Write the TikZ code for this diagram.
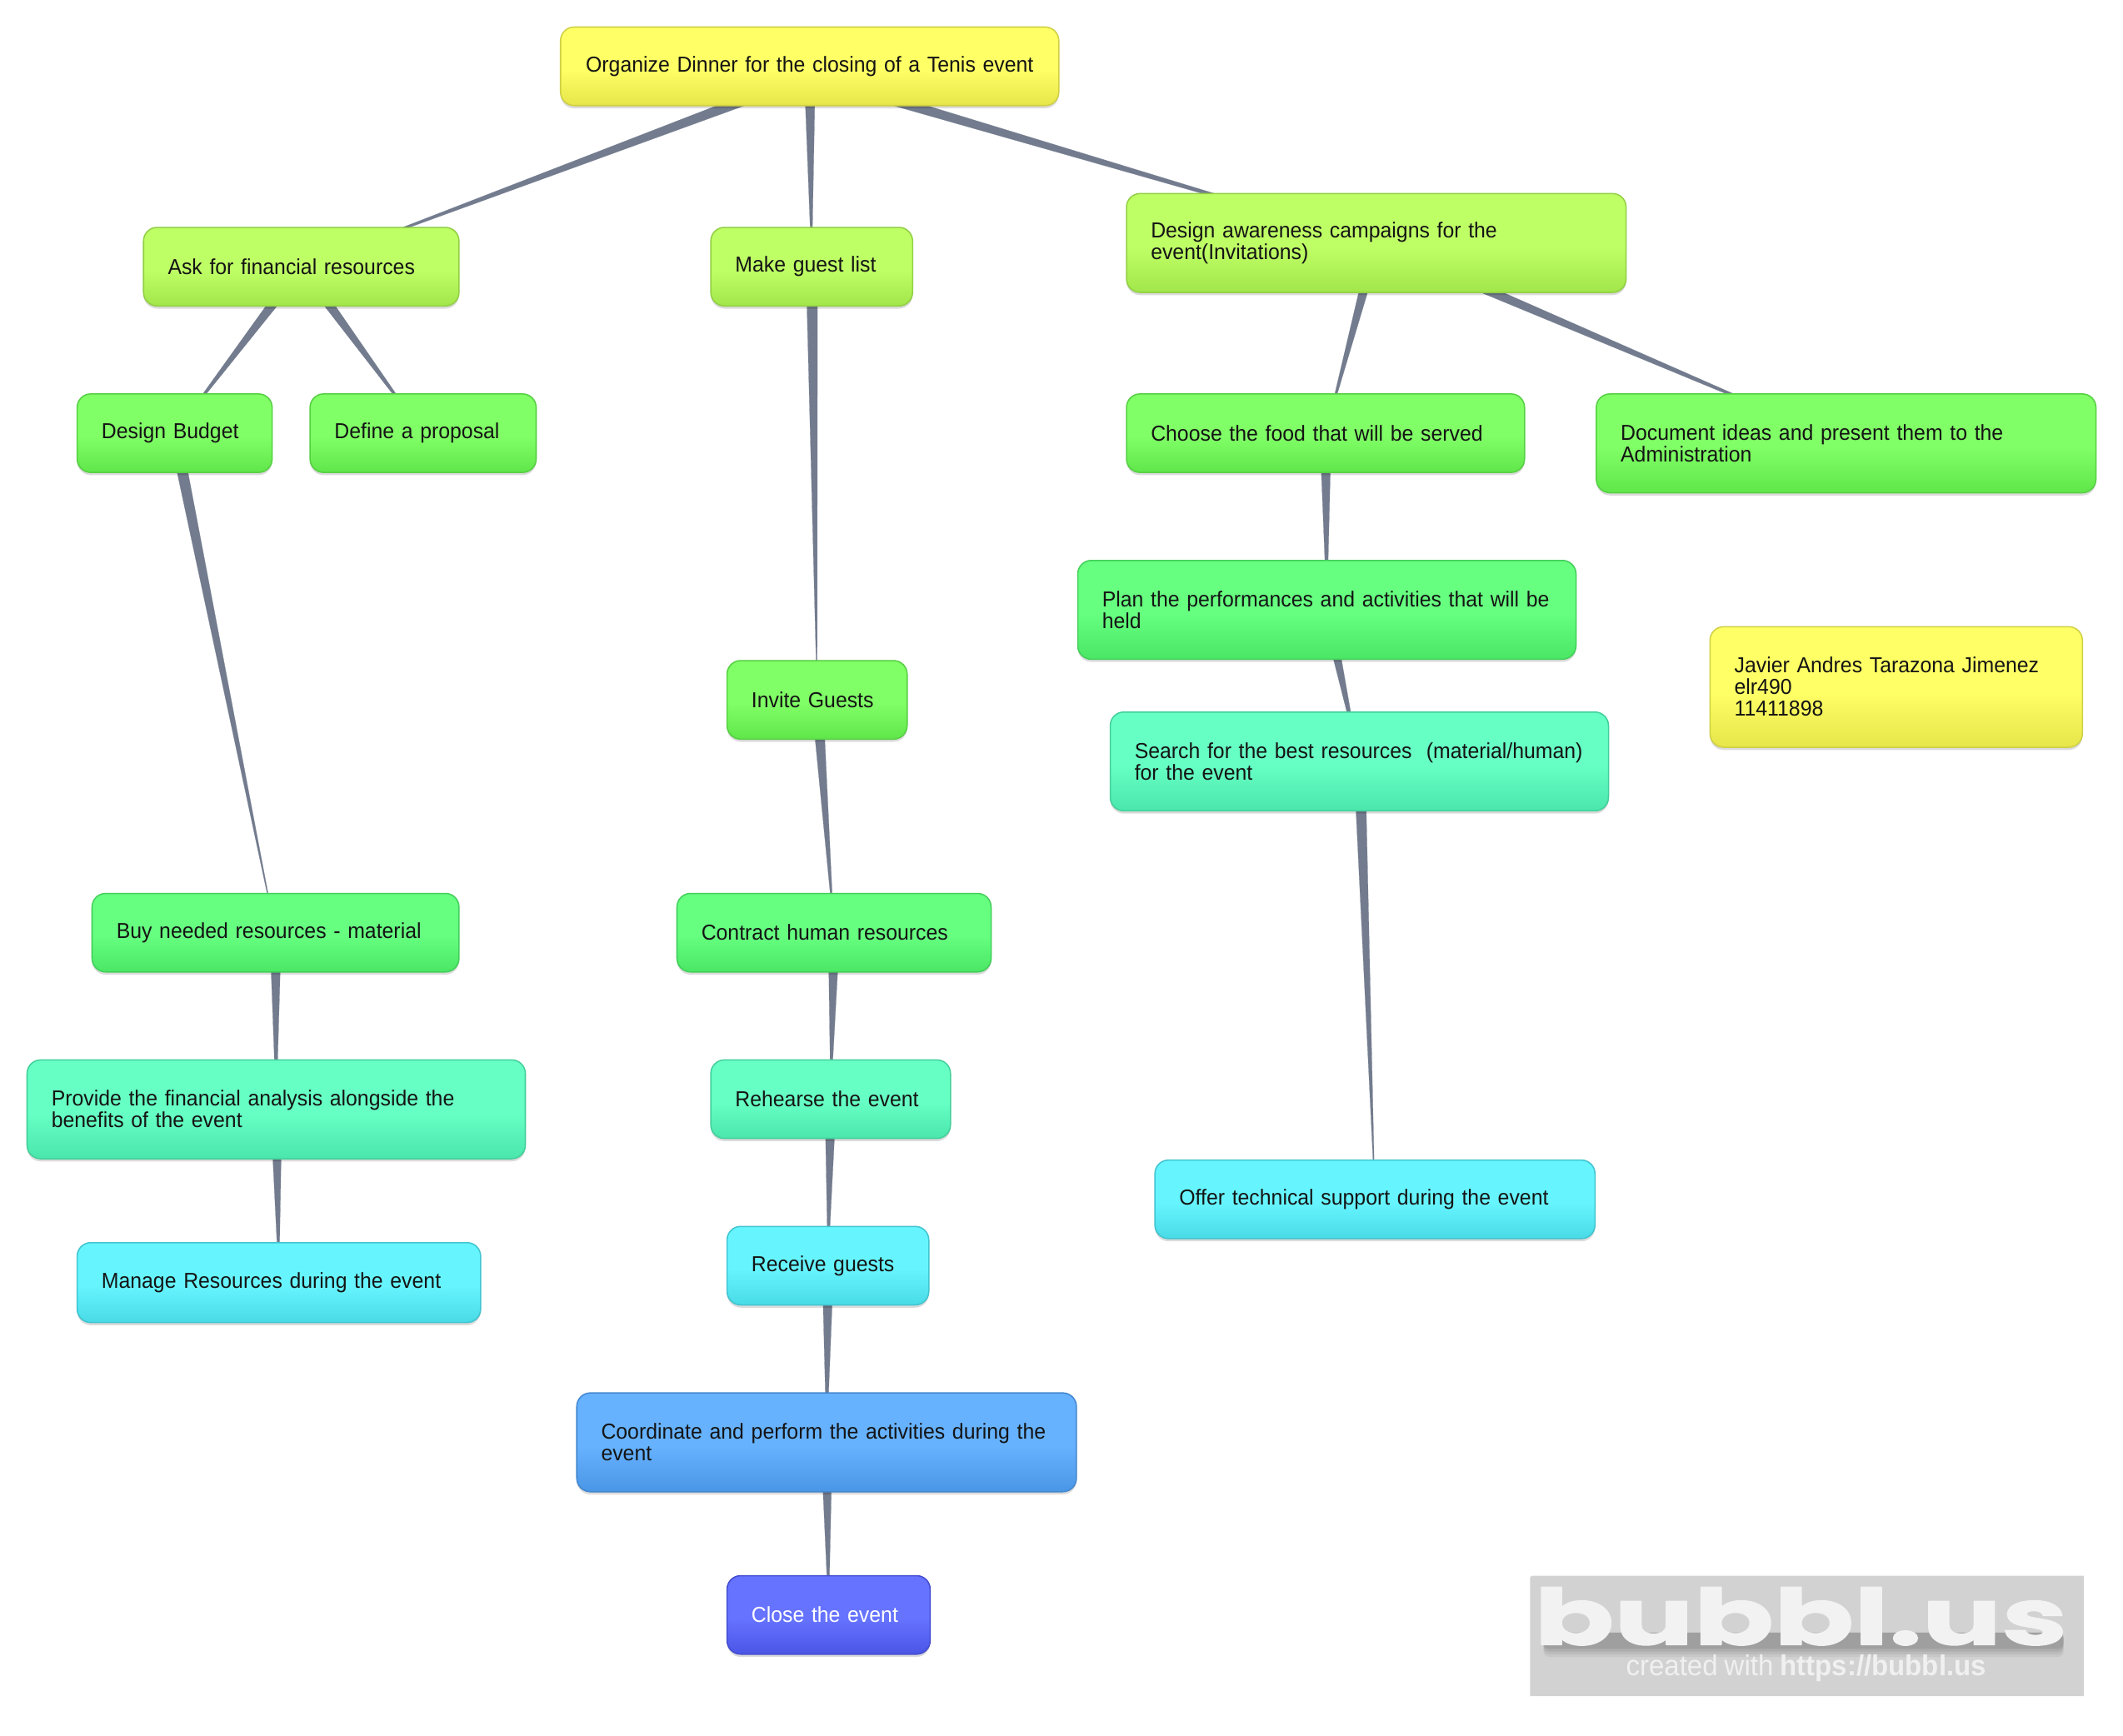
\documentclass[tikz,border=0pt]{standalone}
\usepackage{fontspec}
\setmainfont{Liberation Sans}[FakeStretch=0.955,WordSpace=0.88]
\newfontfamily\logofont{Poppins}[FakeStretch=1.52,FakeBold=1.6]
\usetikzlibrary{calc,shadows,backgrounds}
\definecolor{linkc}{HTML}{737C8E}
\newcommand\mkshade[3]{%
  \definecolor{#1m}{HTML}{#2}\definecolor{#1d}{HTML}{#3}%
  \pgfdeclareverticalshading{#1}{100bp}{color(0bp)=(#1d); color(25bp)=(#1d); color(48bp)=(#1m); color(100bp)=(#1m)}%
  \colorlet{#1b}{#1d!90!black}%
}
\mkshade{lvY}{FFFF66}{E6E64A}
\mkshade{lvL}{BFFF66}{A1E64A}
\mkshade{lvG}{80FF66}{60E64A}
\mkshade{lvH}{66FF80}{4AE664}
\mkshade{lvT}{66FFC4}{4AE6AC}
\mkshade{lvC}{66F5FF}{48DAE6}
\mkshade{lvB}{66B2FF}{4A96E6}
\mkshade{lvV}{6673FF}{4A55E6}
\tikzset{
  bub/.style={rounded corners=7.5pt,inner sep=0pt,align=left,text=black!92,line width=.7pt,
    font=\fontsize{12pt}{12pt}\selectfont,
    drop shadow={shadow xshift=0pt,shadow yshift=-1.5pt,opacity=.14,fill=black}},
  link/.default=0,
  link/.style={draw=linkc,fill=linkc,line width=.1pt,
    to path={($($(\tikztostart.center)+(0,#1)$)!3.2pt!90:(\tikztotarget.center)$) -- ($($(\tikztostart.center)+(0,#1)$)!3.2pt!-90:(\tikztotarget.center)$) -- (\tikztotarget.center) -- cycle}},
  logotext/.style={inner sep=0pt,anchor=base},
  logobig/.style={font=\logofont\bfseries\fontsize{43pt}{46pt}\selectfont},
  logosmall/.style={font=\fontsize{15.95pt}{16pt}\selectfont}
}
% name, x0, x1, y0, y1, level, text
\newcommand\bubble[8][]{%
  \pgfmathsetmacro\bw{(#4-#3)*.75}%
  \pgfmathsetmacro\bh{(#6-#5)*.75}%
  \pgfmathsetmacro\tw{(#4-#3-36)*.75}%
  \node[bub,draw=#7b,shading=#7,minimum width=\bw pt,minimum height=\bh pt,text width=\tw pt,#1]
    (#2) at ({(#3+#4)/2},{(#5+#6)/2}) {#8};%
}
\newcommand\logoword{\special{pdf:code 1 j}bubbl.us}
\begin{document}
\begin{tikzpicture}[x=.75pt,y=-.75pt]
\useasboundingbox (0,0) rectangle (1568,1282.4);
\bubble[align=center]{root}{414}{782}{20}{78}{lvY}{Organize Dinner for the closing of a Tenis event}
\bubble{fin}{106}{339}{168}{226}{lvL}{Ask for financial resources}
\bubble{guest}{525}{674}{168}{226}{lvL}{Make guest list}
\bubble{aware}{832}{1201}{143}{216}{lvL}{Design awareness campaigns for the\\event(Invitations)}
\bubble{budget}{57}{201}{291}{349}{lvG}{Design Budget}
\bubble{prop}{229}{396}{291}{349}{lvG}{Define a proposal}
\bubble{food}{832}{1126}{291}{349}{lvG}{Choose the food that will be served}
\bubble{doc}{1179}{1548}{291}{364}{lvG}{Document ideas and present them to the\\Administration}
\bubble{plan}{796}{1164}{414}{487}{lvH}{Plan the performances and activities that will be\\held}
\bubble{invite}{537}{670}{488}{546}{lvG}{Invite Guests}
\bubble{search}{820}{1188}{526}{599}{lvT}{Search for the best resources~~(material/human)\\for the event}
\bubble{author}{1263}{1538}{463}{552}{lvY}{Javier Andres Tarazona Jimenez\\elr490\\11411898}
\bubble{buy}{68}{339}{660}{718}{lvH}{Buy needed resources - material}
\bubble{contract}{500}{732}{660}{718}{lvH}{Contract human resources}
\bubble{provide}{20}{388}{783}{856}{lvT}{Provide the financial analysis alongside the\\benefits of the event}
\bubble{rehearse}{525}{702}{783}{841}{lvT}{Rehearse the event}
\bubble{receive}{537}{686}{906}{964}{lvC}{Receive guests}
\bubble{manage}{57}{355}{918}{977}{lvC}{Manage Resources during the event}
\bubble{offer}{853}{1178}{857}{915}{lvC}{Offer technical support during the event}
\bubble{coord}{426}{795}{1029}{1102}{lvB}{Coordinate and perform the activities during the\\event}
\bubble[text=white]{close}{537}{687}{1164}{1222}{lvV}{Close the event}
\begin{scope}[on background layer]
\draw[link=7] (root) to (fin);
\draw[link] (root) to (guest);
\draw[link=7] (root) to (aware);
\draw[link] (fin) to (budget);
\draw[link] (fin) to (prop);
\draw[link] (budget) to (buy);
\draw[link] (buy) to (provide);
\draw[link] (provide) to (manage);
\draw[link] (guest) to (invite);
\draw[link] (invite) to (contract);
\draw[link] (contract) to (rehearse);
\draw[link] (rehearse) to (receive);
\draw[link] (receive) to (coord);
\draw[link] (coord) to (close);
\draw[link] (aware) to (food);
\draw[link] (aware) to (doc);
\draw[link] (food) to (plan);
\draw[link] (plan) to (search);
\draw[link] (search) to (offer);
\end{scope}
% logo
\fill[fill=black!17.5] (1130,1253) -- (1130,1167) [rounded corners=1.5pt] -- (1130,1164) [sharp corners] -- (1539,1164) -- (1539,1253) -- cycle;
\coordinate (logoA) at (1330,1215);
\coordinate (logoB) at (1334,1238);
\foreach \h/\o in {8/.05,6/.06,4/.07,2/.08}{
  \fill[black,opacity=\o,rounded corners=3pt] (1140,1206) rectangle (1524,1216+\h);
}
\node[logotext,logobig,text=black!5] (logo) at (logoA) {\logoword};
\node[logotext,logosmall,text=black!6] (credit) at (logoB) {created with \textbf{https://bubbl.us}};
\end{tikzpicture}
\end{document}
